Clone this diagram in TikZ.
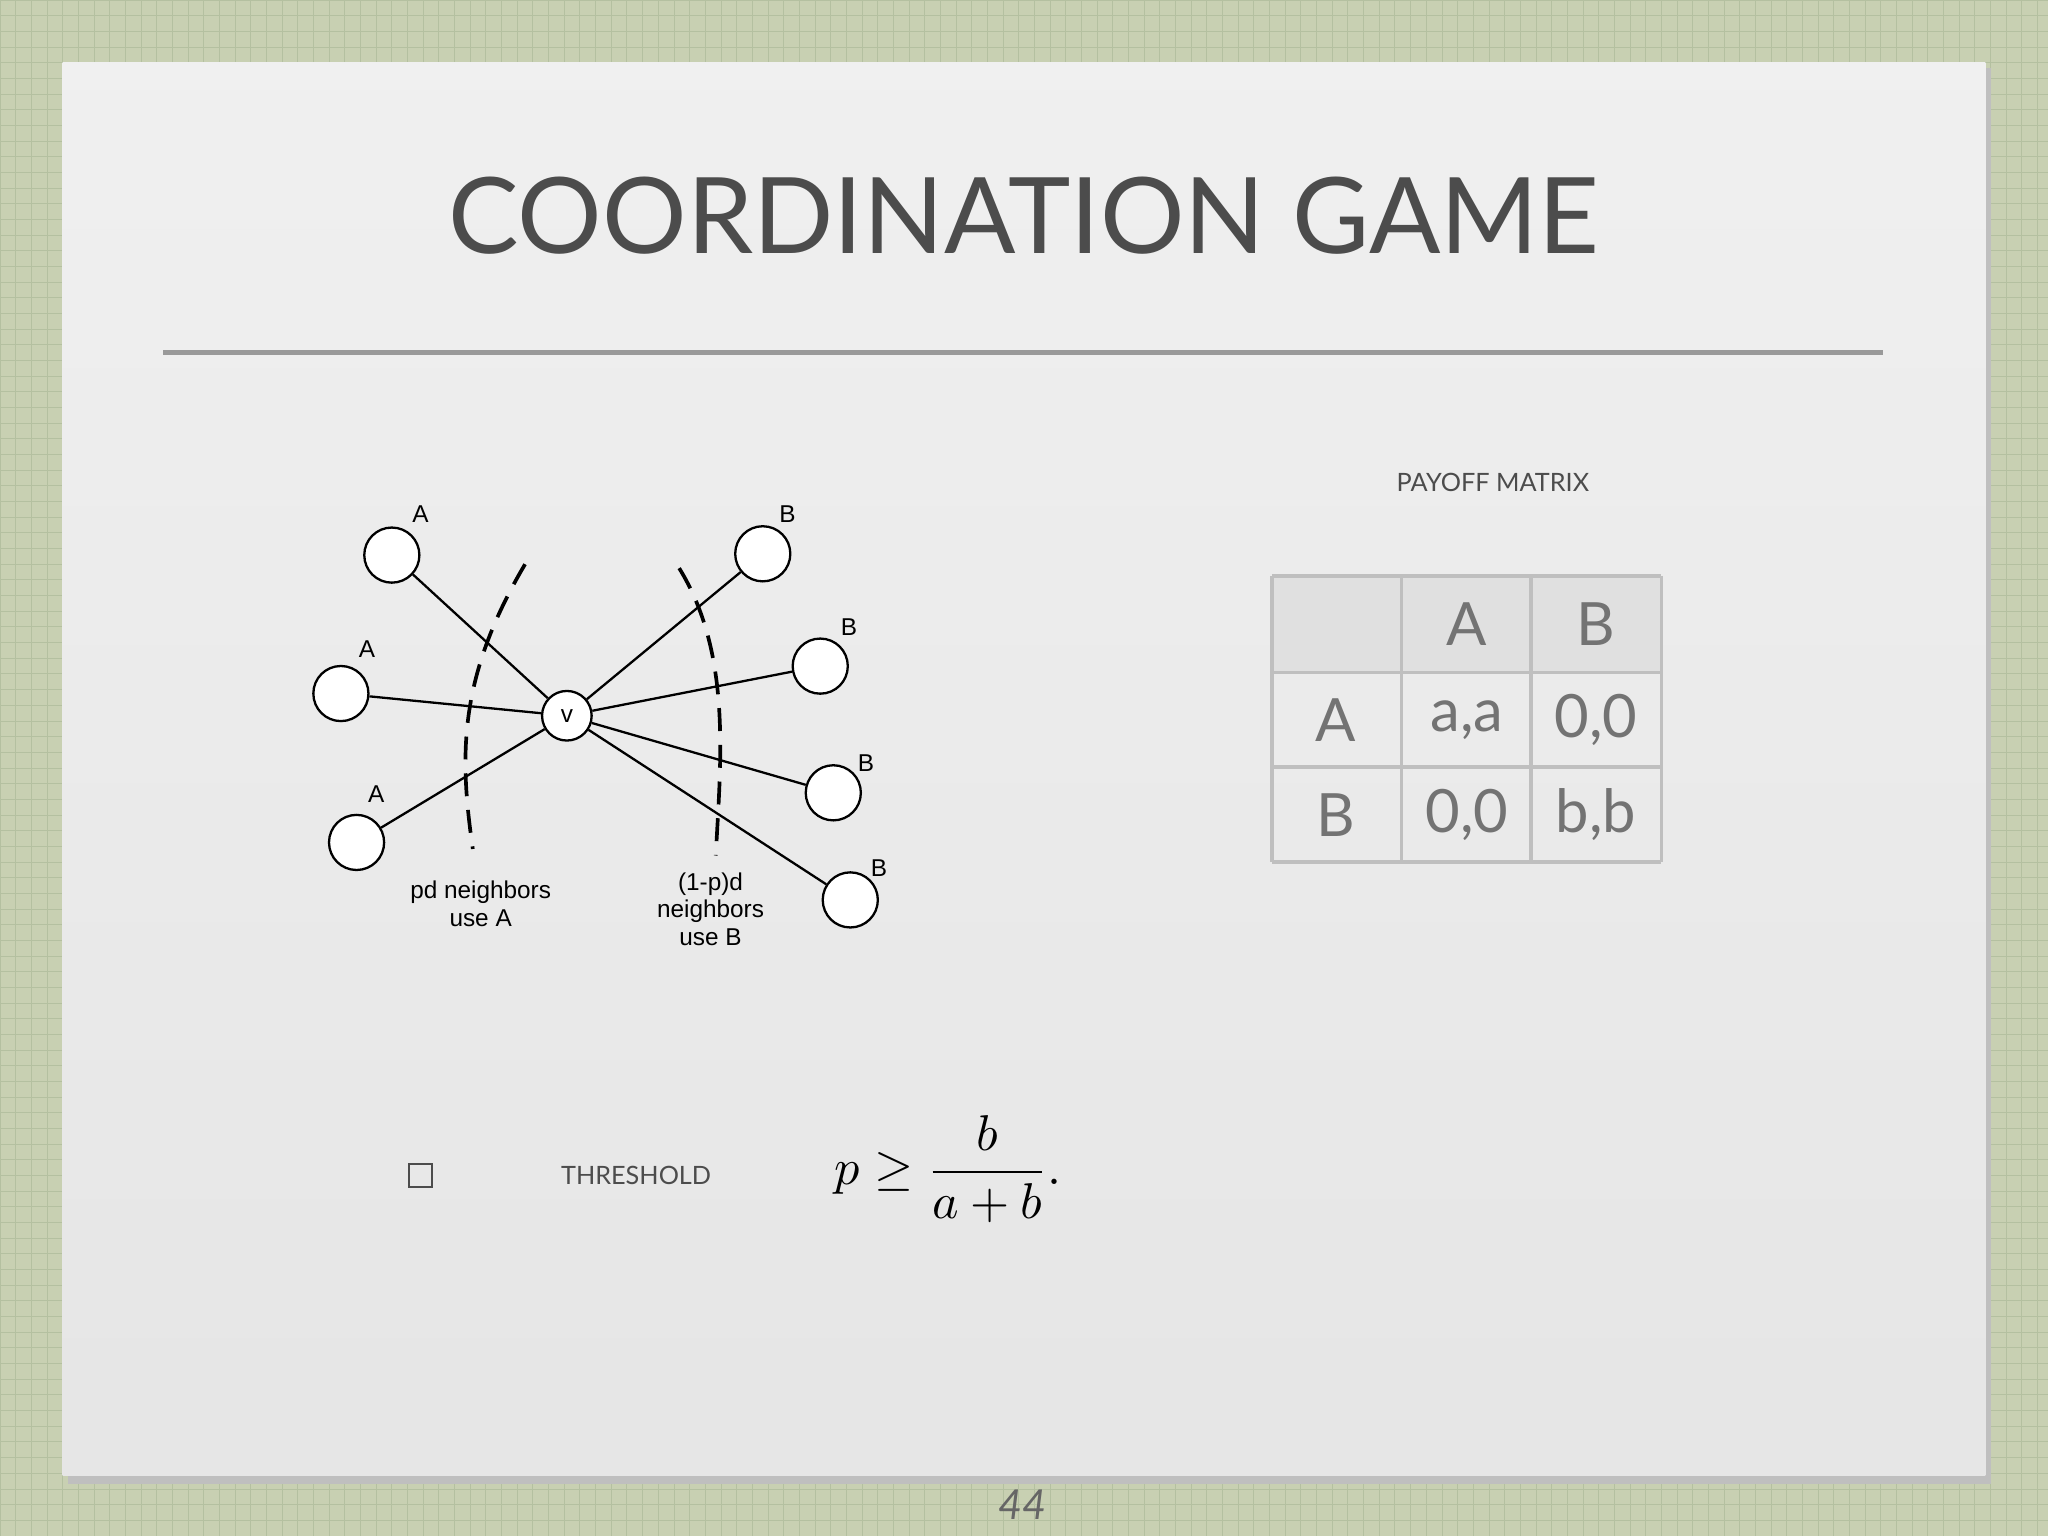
\documentclass[tikz,border=0pt]{standalone}
\usepackage{fontspec}
\setsansfont{Lato}
\newfontfamily\arialf{Liberation Sans}
\usepackage{amsmath}
\begin{document}
\begin{tikzpicture}[x=0.01cm,y=-0.01cm,
 vtx/.style={circle,draw,fill=white,line width=0.5pt,inner sep=0pt},
 lbl/.style={font=\arialf\fontsize{5.3}{6}\selectfont},
 cellt/.style={font=\sffamily\fontsize{13}{13}\selectfont,text=black!55},
 hand/.style={font=\sffamily\fontsize{5.5}{7}\selectfont,text=black!70}]
\useasboundingbox (0,0) rectangle (1568,1176);
\fill[color={rgb,255:red,200;green,208;blue,178}] (0,0) rectangle (1568,1176);
\foreach \i in {0,12,...,1568} \draw[color={rgb,255:red,180;green,192;blue,160},line width=0.2pt] (\i,0)--(\i,1176);
\foreach \i in {0,12,...,1176} \draw[color={rgb,255:red,180;green,192;blue,160},line width=0.2pt] (0,\i)--(1568,\i);
\fill[black!25] (52,52) rectangle (1524,1136);
\shade[top color=black!6,bottom color=black!10] (48,48) rectangle (1520,1130);
\node[font=\sffamily\fontsize{23}{23}\selectfont,text=black!70] (title) at (784,165) {COORDINATION GAME};
\draw[black!40,line width=1pt] (125,270) -- (1442,270);
% graph
\node[vtx,minimum size=10.8pt] (v) at (434,548) {};
\node[lbl] at (v) {v};
\foreach \n/\x/\y in {a1/300/425,a2/261/531,a3/273/645,b1/584/424,b2/628/510,b3/638/607,b4/651/689}
  \node[vtx,minimum size=12pt] (\n) at (\x,\y) {};
\foreach \n in {a1,a2,a3,b1,b2,b3,b4} \draw[line width=0.5pt] (v) -- (\n);
\node[lbl] at (322,394) {A};
\node[lbl] at (281,497) {A};
\node[lbl] at (288,608) {A};
\node[lbl] at (603,394) {B};
\node[lbl] at (650,480) {B};
\node[lbl] at (663,584) {B};
\node[lbl] at (673,665) {B};
\draw[line width=0.8pt,dash pattern=on 5pt off 3pt] (402,432) .. controls (350,520) and (352,580) .. (362,650);
\draw[line width=0.8pt,dash pattern=on 5pt off 3pt] (520,435) .. controls (560,500) and (552,580) .. (548,655);
\node[lbl,align=center] at (368,692) {pd neighbors\\use A};
\node[lbl,align=center] at (544,696) {(1-p)d\\neighbors\\use B};
% table
\node[hand] (pm) at (1143,369) {PAYOFF MATRIX};
\fill[black!12] (974,441) rectangle (1272,515);
\foreach \x in {974,1073,1172,1272} \draw[black!25,line width=0.8pt] (\x,441) -- (\x,660);
\foreach \y in {441,515,587,660} \draw[black!25,line width=0.8pt] (974,\y) -- (1272,\y);
\node[cellt] at (1123,478) {A};
\node[cellt] at (1222,478) {B};
\node[cellt] at (1023,551) {A};
\node[cellt] at (1123,551) {a,a};
\node[cellt] at (1222,551) {0,0};
\node[cellt] at (1023,624) {B};
\node[cellt] at (1123,624) {0,0};
\node[cellt] at (1222,624) {b,b};
% threshold
\draw[black!70,line width=0.5pt] (313,891) rectangle (331,909);
\node[hand] at (487,900) {THRESHOLD};
\node[font=\fontsize{11}{12}\selectfont] at (726,895) {$p \ge \dfrac{b}{a+b}.$};
\node[font=\sffamily\itshape\fontsize{9}{9}\selectfont,text=black!60] at (783,1152) {44};
\end{tikzpicture}
\end{document}
